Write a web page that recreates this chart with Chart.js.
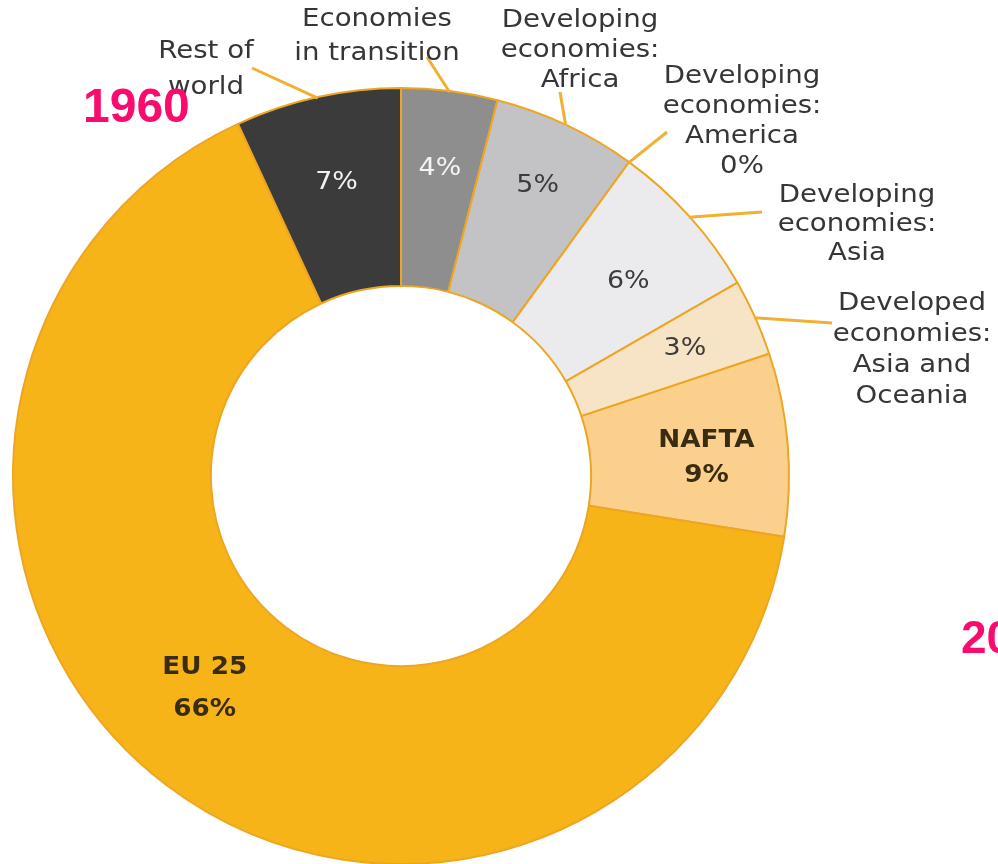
<!DOCTYPE html>
<html>
<head>
<meta charset="utf-8">
<script src="https://cdn.jsdelivr.net/npm/chart.js@4.4.1/dist/chart.umd.min.js"></script>
<style>
  html, body { margin: 0; padding: 0; background: #fff; overflow: hidden; }
  #page { position: relative; width: 998px; height: 864px; overflow: hidden; }
  #c { position: absolute; left: 0; top: 0; }
  .year { position: absolute; font-family: "Liberation Sans", Arial, sans-serif; font-weight: bold;
          color: #fa0b6e; line-height: 1; white-space: nowrap; }
</style>
</head>
<body>
<div id="page">
  <canvas id="c" width="998" height="880"></canvas>
  <div class="year" style="left:83px; top:82px; font-size:48px;">1960</div>
  <div class="year" style="left:961px; top:614px; font-size:46px;">20</div>
</div>
<script>
// regions, clockwise from 12 o'clock
const categories = [
  ['Economies', 'in transition'],
  ['Developing', 'economies:', 'Africa'],
  ['Developing', 'economies:', 'America'],
  ['Developing', 'economies:', 'Asia'],
  ['Developed', 'economies:', 'Asia and', 'Oceania'],
  ['NAFTA'],
  ['EU 25'],
  ['Rest of', 'world']
];
// share of the ring as drawn in the picture (%)
const drawnShare = [4.0, 6.0, 0, 6.7, 3.2, 7.6, 65.6, 6.9];
// percentages printed on the picture
const printedShare = ['4%', '5%', '0%', '6%', '3%', '9%', '66%', '7%'];

const colors = ['#8e8e8e', '#c3c3c5', '#d8d8d8', '#ebebee', '#f7e4c6', '#fbcf8c', '#f6b419', '#3b3b3b'];
const orange = '#eda623';

// outside labels: centre x, first baseline, line height, leader end x, leader end y
const outside = {
  0: [377, 26, 34, 427, 57],
  1: [580, 27, 30, 560, 92],
  2: [742, 83, 30, 667, 132],
  3: [857, 202, 29, 762, 212],
  4: [912, 310, 31, 832, 323],
  7: [206, 58, 36, 252, 68]
};
// inside labels: radius, extra turn (deg), line gap, show name, bold, colour
const inside = {
  0: [310, 0, 0, false, false, '#f4f4f4'],
  1: [321, 0, 0, false, false, '#3c3c3c'],
  3: [299, 1.4, 0, false, false, '#3c3c3c'],
  4: [311, 0, 0, false, false, '#3c3c3c'],
  5: [306, 1.3, 35, true, true, '#3a2c12'],
  6: [289, 5.7, 42, true, true, '#3a2c12'],
  7: [300, 0, 0, false, false, '#f2f2f2']
};

function wideText(ctx, str, x, y, sx) {
  ctx.save();
  ctx.translate(x, y);
  ctx.scale(sx, 1);
  ctx.fillText(str, 0, 0);
  ctx.restore();
}

const labelPlugin = {
  id: 'regionLabels',
  afterDatasetsDraw(chart) {
    const ctx = chart.ctx;
    const arcs = chart.getDatasetMeta(0).data;
    ctx.save();
    ctx.textAlign = 'center';

    arcs.forEach((arc, i) => {
      const p = arc.getProps(['x', 'y', 'startAngle', 'endAngle', 'innerRadius', 'outerRadius'], true);
      const mid = (p.startAngle + p.endAngle) / 2;

      if (outside[i]) {
        const [cx, base, lh, ex, ey] = outside[i];
        ctx.strokeStyle = '#f0b032';
        ctx.lineWidth = 3;
        ctx.beginPath();
        ctx.moveTo(p.x + Math.cos(mid) * (p.outerRadius - 1), p.y + Math.sin(mid) * (p.outerRadius - 1));
        ctx.lineTo(ex, ey);
        ctx.stroke();

        const lines = categories[i].slice();
        if (i === 2) lines.push(printedShare[i]);
        ctx.fillStyle = '#363636';
        ctx.font = '24px "DejaVu Sans"';
        ctx.textBaseline = 'alphabetic';
        lines.forEach((t, k) => wideText(ctx, t, cx, base + k * lh, 1.15));
      }

      if (inside[i]) {
        const [r, turn, gap, named, bold, col] = inside[i];
        const a = mid + turn * Math.PI / 180;
        const x = p.x + Math.cos(a) * r;
        const y = p.y + Math.sin(a) * r;
        ctx.fillStyle = col;
        ctx.textBaseline = 'middle';
        ctx.font = (bold ? 'bold 25px' : '24px') + ' "DejaVu Sans"';
        if (named) {
          wideText(ctx, categories[i][0], x, y - gap / 2, 1.05);
          wideText(ctx, printedShare[i], x, y + gap / 2, 1.05);
        } else {
          wideText(ctx, printedShare[i], x, y, 1.12);
        }
      }
    });
    ctx.restore();
  }
};

new Chart(document.getElementById('c'), {
  type: 'doughnut',
  data: {
    labels: categories,
    datasets: [{
      data: drawnShare,
      backgroundColor: colors,
      borderColor: orange,
      borderWidth: 2
    }]
  },
  options: {
    responsive: false,
    animation: false,
    cutout: '49%',
    layout: { padding: { left: 12, right: 208, top: 87, bottom: 15 } },
    plugins: {
      legend: { display: false },
      tooltip: { enabled: false }
    }
  },
  plugins: [labelPlugin]
});
</script>
</body>
</html>
